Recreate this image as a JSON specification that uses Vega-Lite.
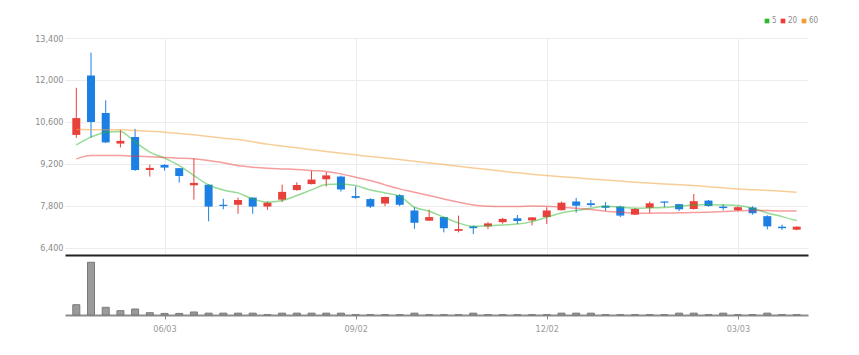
{
  "$schema": "https://vega.github.io/schema/vega-lite/v6.json",
  "background": "white",
  "padding": {"left": 25, "top": 17, "right": 5, "bottom": 5},
  "spacing": 2,
  "bounds": "flush",
  "config": {
    "view": {"stroke": null},
    "font": "DejaVu Sans Condensed, Liberation Sans Narrow, sans-serif",
    "axis": {"labelFont": "DejaVu Sans Condensed, Liberation Sans Narrow, sans-serif", "labelFontSize": 9, "labelColor": "#8a8a8a"}
  },
  "datasets": {
    "w": [
      {"date": "2024-04-22", "open": 10170, "high": 11740, "low": 10070, "close": 10730, "vol": 195, "ma5": 9838, "ma20": 9371, "ma60": 10350},
      {"date": "2024-04-29", "open": 12150, "high": 12910, "low": 10080, "close": 10600, "vol": 1000, "ma5": 10095, "ma20": 9482, "ma60": 10345},
      {"date": "2024-05-06", "open": 10900, "high": 11320, "low": 9900, "close": 9920, "vol": 146, "ma5": 10262, "ma20": 9482, "ma60": 10340},
      {"date": "2024-05-13", "open": 9880, "high": 10340, "low": 9750, "close": 9970, "vol": 82, "ma5": 10283, "ma20": 9482, "ma60": 10339},
      {"date": "2024-05-20", "open": 10100, "high": 10370, "low": 8970, "close": 9000, "vol": 114, "ma5": 9928, "ma20": 9462, "ma60": 10316},
      {"date": "2024-05-27", "open": 9000, "high": 9180, "low": 8780, "close": 9070, "vol": 44, "ma5": 9595, "ma20": 9440, "ma60": 10290},
      {"date": "2024-06-03", "open": 9170, "high": 9190, "low": 8980, "close": 9080, "vol": 30, "ma5": 9395, "ma20": 9415, "ma60": 10262},
      {"date": "2024-06-10", "open": 9060, "high": 9065, "low": 8580, "close": 8800, "vol": 30, "ma5": 9147, "ma20": 9395, "ma60": 10220},
      {"date": "2024-06-17", "open": 8490, "high": 9380, "low": 8010, "close": 8570, "vol": 57, "ma5": 8814, "ma20": 9371, "ma60": 10172},
      {"date": "2024-06-24", "open": 8510, "high": 8520, "low": 7290, "close": 7780, "vol": 35, "ma5": 8503, "ma20": 9315, "ma60": 10120},
      {"date": "2024-07-01", "open": 7840, "high": 8040, "low": 7690, "close": 7800, "vol": 35, "ma5": 8330, "ma20": 9238, "ma60": 10062},
      {"date": "2024-07-08", "open": 7840, "high": 8080, "low": 7540, "close": 8000, "vol": 35, "ma5": 8236, "ma20": 9148, "ma60": 10016},
      {"date": "2024-07-15", "open": 8080, "high": 8090, "low": 7540, "close": 7780, "vol": 35, "ma5": 8036, "ma20": 9094, "ma60": 9940},
      {"date": "2024-07-22", "open": 7780, "high": 7950, "low": 7670, "close": 7910, "vol": 5, "ma5": 7926, "ma20": 9060, "ma60": 9862},
      {"date": "2024-07-29", "open": 8010, "high": 8510, "low": 7930, "close": 8270, "vol": 35, "ma5": 7980, "ma20": 9037, "ma60": 9800},
      {"date": "2024-08-05", "open": 8330, "high": 8590, "low": 8310, "close": 8500, "vol": 35, "ma5": 8147, "ma20": 9015, "ma60": 9738},
      {"date": "2024-08-12", "open": 8530, "high": 8970, "low": 8520, "close": 8680, "vol": 35, "ma5": 8337, "ma20": 8982, "ma60": 9676},
      {"date": "2024-08-19", "open": 8690, "high": 8930, "low": 8450, "close": 8820, "vol": 35, "ma5": 8513, "ma20": 8948, "ma60": 9615},
      {"date": "2024-08-26", "open": 8780, "high": 8810, "low": 8280, "close": 8350, "vol": 35, "ma5": 8537, "ma20": 8870, "ma60": 9560},
      {"date": "2024-09-02", "open": 8130, "high": 8450, "low": 8040, "close": 8070, "vol": 5, "ma5": 8480, "ma20": 8760, "ma60": 9504},
      {"date": "2024-09-09", "open": 8030, "high": 8060, "low": 7730, "close": 7780, "vol": 5, "ma5": 8330, "ma20": 8647, "ma60": 9448},
      {"date": "2024-09-16", "open": 7880, "high": 8110, "low": 7790, "close": 8100, "vol": 5, "ma5": 8236, "ma20": 8504, "ma60": 9400},
      {"date": "2024-09-23", "open": 8160, "high": 8200, "low": 7790, "close": 7840, "vol": 5, "ma5": 8126, "ma20": 8370, "ma60": 9348},
      {"date": "2024-09-30", "open": 7650, "high": 7760, "low": 7040, "close": 7240, "vol": 35, "ma5": 7758, "ma20": 8260, "ma60": 9290},
      {"date": "2024-10-07", "open": 7310, "high": 7680, "low": 7300, "close": 7430, "vol": 5, "ma5": 7625, "ma20": 8147, "ma60": 9236},
      {"date": "2024-10-14", "open": 7430, "high": 7440, "low": 6920, "close": 7060, "vol": 5, "ma5": 7425, "ma20": 8036, "ma60": 9181},
      {"date": "2024-10-21", "open": 6970, "high": 7480, "low": 6920, "close": 7030, "vol": 5, "ma5": 7235, "ma20": 7926, "ma60": 9125},
      {"date": "2024-10-28", "open": 7120, "high": 7145, "low": 6860, "close": 7060, "vol": 35, "ma5": 7124, "ma20": 7836, "ma60": 9070},
      {"date": "2024-11-04", "open": 7120, "high": 7260, "low": 7030, "close": 7220, "vol": 5, "ma5": 7145, "ma20": 7793, "ma60": 9015},
      {"date": "2024-11-11", "open": 7260, "high": 7400, "low": 7210, "close": 7370, "vol": 5, "ma5": 7168, "ma20": 7780, "ma60": 8960},
      {"date": "2024-11-18", "open": 7390, "high": 7500, "low": 7200, "close": 7300, "vol": 5, "ma5": 7196, "ma20": 7780, "ma60": 8904},
      {"date": "2024-11-25", "open": 7320, "high": 7430, "low": 7150, "close": 7420, "vol": 5, "ma5": 7278, "ma20": 7800, "ma60": 8860},
      {"date": "2024-12-02", "open": 7430, "high": 7760, "low": 7200, "close": 7650, "vol": 5, "ma5": 7425, "ma20": 7793, "ma60": 8815},
      {"date": "2024-12-09", "open": 7660, "high": 7950, "low": 7650, "close": 7910, "vol": 35, "ma5": 7569, "ma20": 7760, "ma60": 8778},
      {"date": "2024-12-16", "open": 7950, "high": 8070, "low": 7580, "close": 7810, "vol": 35, "ma5": 7646, "ma20": 7726, "ma60": 8740},
      {"date": "2024-12-23", "open": 7890, "high": 8000, "low": 7760, "close": 7830, "vol": 35, "ma5": 7726, "ma20": 7680, "ma60": 8703},
      {"date": "2024-12-30", "open": 7810, "high": 7930, "low": 7640, "close": 7740, "vol": 5, "ma5": 7793, "ma20": 7625, "ma60": 8666},
      {"date": "2025-01-06", "open": 7780, "high": 7810, "low": 7430, "close": 7480, "vol": 5, "ma5": 7758, "ma20": 7592, "ma60": 8630},
      {"date": "2025-01-13", "open": 7510, "high": 7735, "low": 7500, "close": 7700, "vol": 5, "ma5": 7726, "ma20": 7569, "ma60": 8593},
      {"date": "2025-01-20", "open": 7740, "high": 7950, "low": 7570, "close": 7890, "vol": 5, "ma5": 7735, "ma20": 7558, "ma60": 8565},
      {"date": "2025-01-27", "open": 7950, "high": 7950, "low": 7760, "close": 7910, "vol": 5, "ma5": 7750, "ma20": 7565, "ma60": 8537},
      {"date": "2025-02-03", "open": 7860, "high": 7870, "low": 7630, "close": 7690, "vol": 35, "ma5": 7793, "ma20": 7572, "ma60": 8508},
      {"date": "2025-02-10", "open": 7700, "high": 8200, "low": 7680, "close": 7960, "vol": 35, "ma5": 7836, "ma20": 7580, "ma60": 8480},
      {"date": "2025-02-17", "open": 7980, "high": 8000, "low": 7780, "close": 7800, "vol": 5, "ma5": 7846, "ma20": 7595, "ma60": 8443},
      {"date": "2025-02-24", "open": 7780, "high": 7860, "low": 7660, "close": 7730, "vol": 35, "ma5": 7836, "ma20": 7613, "ma60": 8406},
      {"date": "2025-03-03", "open": 7660, "high": 7790, "low": 7625, "close": 7760, "vol": 5, "ma5": 7813, "ma20": 7640, "ma60": 8370},
      {"date": "2025-03-10", "open": 7750, "high": 7790, "low": 7510, "close": 7560, "vol": 5, "ma5": 7726, "ma20": 7650, "ma60": 8345},
      {"date": "2025-03-17", "open": 7460, "high": 7490, "low": 7020, "close": 7120, "vol": 35, "ma5": 7569, "ma20": 7646, "ma60": 8320},
      {"date": "2025-03-24", "open": 7110, "high": 7180, "low": 7000, "close": 7060, "vol": 5, "ma5": 7446, "ma20": 7635, "ma60": 8293},
      {"date": "2025-03-31", "open": 7010, "high": 7120, "low": 6990, "close": 7110, "vol": 5, "ma5": 7312, "ma20": 7635, "ma60": 8260}
    ]
  },
  "vconcat": [
    {
      "width": 743,
      "height": 217,
      "data": {"name": "w"},
      "layer": [
        {
          "mark": {"type": "rule", "strokeWidth": 1},
          "encoding": {
            "x": {"field": "date", "type": "temporal", "scale": {"type": "utc", "domain": [{"year": 2024, "month": 4, "date": 19, "utc": true}, {"year": 2025, "month": 4, "date": 3, "utc": true}]},
              "axis": {"values": [{"year": 2024, "month": 6, "date": 3, "utc": true}, {"year": 2024, "month": 9, "date": 2, "utc": true}, {"year": 2024, "month": 12, "date": 2, "utc": true}, {"year": 2025, "month": 3, "date": 3, "utc": true}], "labels": false, "ticks": false, "grid": true, "gridColor": "#ececec", "domainColor": "#222222", "domainWidth": 2, "title": null}},
            "y": {"field": "low", "type": "quantitative", "scale": {"domain": [6166, 13400], "nice": false, "zero": false},
              "axis": {"values": [6400, 7800, 9200, 10600, 12000, 13400], "labelExpr": "format(datum.value, ',')", "grid": true, "gridColor": "#ececec", "domain": false, "ticks": false, "labelPadding": 2, "minExtent": 40, "title": null}},
            "y2": {"field": "high"},
            "color": {"condition": {"test": "datum.close >= datum.open", "value": "#e8413c"}, "value": "#1b7fe3"}
          }
        },
        {
          "mark": {"type": "bar", "size": 8},
          "encoding": {
            "x": {"field": "date", "type": "temporal"},
            "y": {"field": "open", "type": "quantitative"},
            "y2": {"field": "close"},
            "color": {"condition": {"test": "datum.close >= datum.open", "value": "#e8413c"}, "value": "#1b7fe3"}
          }
        },
        {
          "transform": [{"fold": ["ma5", "ma20", "ma60"], "as": ["ma", "value"]}],
          "mark": {"type": "line", "strokeWidth": 1.5, "opacity": 0.5, "interpolate": "monotone"},
          "encoding": {
            "x": {"field": "date", "type": "temporal"},
            "y": {"field": "value", "type": "quantitative"},
            "color": {"field": "ma", "type": "nominal",
              "scale": {"domain": ["ma5", "ma20", "ma60"], "range": ["#2db82d", "#ee3b3b", "#f39c34"]},
              "legend": {"orient": "none", "legendX": 698, "legendY": -21, "direction": "horizontal", "title": null,
                "symbolType": "square", "symbolSize": 22, "labelFontSize": 8, "labelColor": "#8a8a8a", "labelFont": "DejaVu Sans Condensed, Liberation Sans Narrow, sans-serif",
                "labelOffset": 1, "columnPadding": 2, "padding": 0, "symbolOpacity": 1,
                "labelExpr": "replace(datum.label, 'ma', '')",
                "encode": {"symbols": {"update": {"fill": {"scale": "color", "field": "value"}, "strokeWidth": {"value": 0}, "opacity": {"value": 1}}}}}},
            "detail": {"field": "ma"}
          }
        }
      ]
    },
    {
      "width": 743,
      "height": 58,
      "data": {"name": "w"},
      "mark": {"type": "bar", "size": 7, "color": "#9a9a9a", "stroke": "#7a7a7a", "strokeWidth": 1},
      "encoding": {
        "x": {"field": "date", "type": "temporal", "scale": {"type": "utc", "domain": [{"year": 2024, "month": 4, "date": 19, "utc": true}, {"year": 2025, "month": 4, "date": 3, "utc": true}]},
          "axis": {"values": [{"year": 2024, "month": 6, "date": 3, "utc": true}, {"year": 2024, "month": 9, "date": 2, "utc": true}, {"year": 2024, "month": 12, "date": 2, "utc": true}, {"year": 2025, "month": 3, "date": 3, "utc": true}], "labelExpr": "utcFormat(datum.value, '%m/%d')", "grid": false, "ticks": true, "tickSize": 4, "tickColor": "#888888", "domainColor": "#8c8c8c", "domainWidth": 2, "labelPadding": 5, "labelColor": "#999999", "title": null}},
        "y": {"field": "vol", "type": "quantitative", "scale": {"domain": [0, 1100], "nice": false}, "axis": null}
      }
    }
  ],
  "resolve": {"scale": {"x": "independent"}}
}
